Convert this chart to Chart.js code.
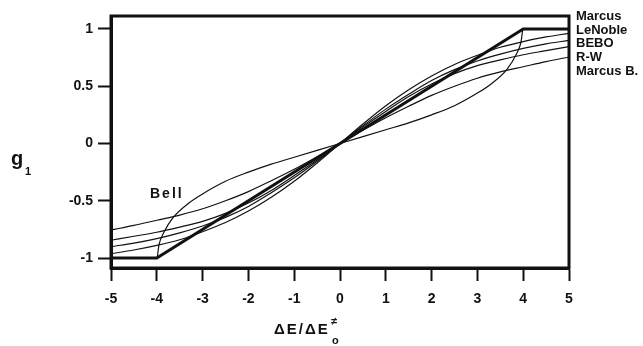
<!DOCTYPE html>
<html>
<head>
    <meta charset="UTF-8">
    <title>g1 vs dE/dE0</title>
    <script src="https://cdn.jsdelivr.net/npm/chart.js@4.4.0/dist/chart.umd.min.js"></script>
    <style>
        body { margin: 0; background: #fff; }
        #wrap { width: 643px; height: 346px; }
    </style>
</head>
<body>
<div id="wrap"><canvas id="myChart"></canvas></div>
<script>
    // x positions (dE / dE0)
    var xs = [-5, -4.5, -4, -3.5, -3, -2.5, -2, -1.5, -1, -0.5, 0, 0.5, 1, 1.5, 2, 2.5, 3, 3.5, 4, 4.5, 5];
    var marcusX = [-5, -4, 4, 5];
    var marcusY = [-1, -1, 1, 1];
    var leNoble = [-0.962, -0.93, -0.89, -0.84, -0.77, -0.69, -0.59, -0.47, -0.33, -0.17, 0, 0.17, 0.33, 0.47, 0.59, 0.69, 0.77, 0.84, 0.89, 0.93, 0.962];
    var bebo = [-0.9, -0.87, -0.83, -0.78, -0.72, -0.645, -0.55, -0.43, -0.3, -0.155, 0, 0.155, 0.3, 0.43, 0.55, 0.645, 0.72, 0.78, 0.83, 0.87, 0.9];
    var rw = [-0.845, -0.81, -0.775, -0.73, -0.68, -0.61, -0.52, -0.41, -0.28, -0.145, 0, 0.145, 0.28, 0.41, 0.52, 0.61, 0.68, 0.73, 0.775, 0.81, 0.845];
    var marcusB = [-0.755, -0.715, -0.67, -0.625, -0.57, -0.5, -0.42, -0.325, -0.225, -0.115, 0, 0.115, 0.225, 0.325, 0.42, 0.5, 0.57, 0.625, 0.67, 0.715, 0.755];
    var bellX = [-5, -4.5, -4, -3.95, -3.85, -3.65, -3.3, -3, -2.5, -2, -1.5, -1, -0.5, 0, 0.5, 1, 1.5, 2, 2.5, 3, 3.3, 3.65, 3.85, 3.95, 4, 4.5, 5];
    var bellY = [-1, -1, -1, -0.88, -0.78, -0.65, -0.52, -0.44, -0.33, -0.25, -0.18, -0.12, -0.06, 0, 0.06, 0.12, 0.18, 0.25, 0.33, 0.44, 0.52, 0.65, 0.78, 0.88, 1, 1, 1];
    var yTicks = [-1, -0.5, 0, 0.5, 1];
    var seriesNames = ['Marcus', 'LeNoble', 'BEBO', 'R-W', 'Marcus B.'];

    function pts(xv, yv) {
        return xv.map(function (x, i) { return { x: x, y: yv[i] }; });
    }

    var FONT = "'Liberation Sans', Arial, sans-serif";

    function curve(label, xv, yv, width, smooth) {
        return {
            label: label,
            data: pts(xv, yv),
            showLine: true,
            borderColor: '#111',
            borderWidth: width,
            pointRadius: 0,
            fill: false,
            tension: 0,
            cubicInterpolationMode: smooth ? 'monotone' : 'default'
        };
    }

    // frame and hand-placed labels
    var decor = {
        id: 'decor',
        afterDraw: function (chart) {
            var ctx = chart.ctx, a = chart.chartArea;
            ctx.save();
            ctx.strokeStyle = '#111';
            ctx.lineWidth = 3;
            ctx.strokeRect(a.left, a.top, a.right - a.left, a.bottom - a.top);

            ctx.fillStyle = '#111';
            ctx.textBaseline = 'middle';
            ctx.textAlign = 'left';
            ctx.font = 'bold 13px ' + FONT;
            var ly = [16, 30, 43, 57, 71];
            seriesNames.forEach(function (n, i) { ctx.fillText(n, 576, ly[i]); });

            ctx.font = 'bold 14px ' + FONT;
            ctx.letterSpacing = '2px';
            ctx.fillText('Bell', 150, 194);

            // y title g1
            ctx.letterSpacing = '0px';
            ctx.textBaseline = 'alphabetic';
            ctx.font = 'bold 20px ' + FONT;
            ctx.fillText('g', 11, 165);
            ctx.font = 'bold 11px ' + FONT;
            ctx.fillText('1', 25, 175);

            // x title
            ctx.font = 'bold 15px ' + FONT;
            ctx.letterSpacing = '2px';
            ctx.fillText('\u0394E/\u0394E', 274, 334);
            ctx.letterSpacing = '0px';
            ctx.font = 'bold 11px ' + FONT;
            ctx.fillText('\u2260', 331, 325);
            ctx.fillText('o', 332, 344);
            ctx.restore();
        }
    };

    var ctx = document.getElementById('myChart').getContext('2d');
    var chart = new Chart(ctx, {
        type: 'scatter',
        data: {
            datasets: [
                curve('Marcus', marcusX, marcusY, 3, false),
                curve('LeNoble', xs, leNoble, 1.2, true),
                curve('BEBO', xs, bebo, 1.2, true),
                curve('R-W', xs, rw, 1.2, true),
                curve('Marcus B.', xs, marcusB, 1.2, true),
                curve('Bell', bellX, bellY, 1.2, true)
            ]
        },
        options: {
            responsive: true,
            maintainAspectRatio: false,
            animation: false,
            layout: { padding: { top: 16, right: 74, left: 0, bottom: 0 } },
            plugins: { legend: { display: false }, tooltip: { enabled: false } },
            scales: {
                x: {
                    type: 'linear',
                    min: -5,
                    max: 5,
                    afterFit: function (s) { s.height = 78; },
                    grid: { drawOnChartArea: false, color: '#111', tickLength: 13, tickWidth: 2 },
                    border: { color: '#111', width: 3 },
                    ticks: { stepSize: 1, color: '#111', padding: 10, font: { family: FONT, size: 14, weight: 'bold' } }
                },
                y: {
                    type: 'linear',
                    min: -1.087,
                    max: 1.113,
                    afterFit: function (s) { s.width = 111; },
                    afterBuildTicks: function (s) { s.ticks = yTicks.map(function (v) { return { value: v }; }); },
                    grid: { drawOnChartArea: false, color: '#111', tickLength: 13, tickWidth: 2 },
                    border: { color: '#111', width: 3 },
                    ticks: {
                        color: '#111', padding: 5,
                        font: { family: FONT, size: 14, weight: 'bold' },
                        callback: function (v) { return String(v); }
                    }
                }
            }
        },
        plugins: [decor]
    });
</script>
</body>
</html>
